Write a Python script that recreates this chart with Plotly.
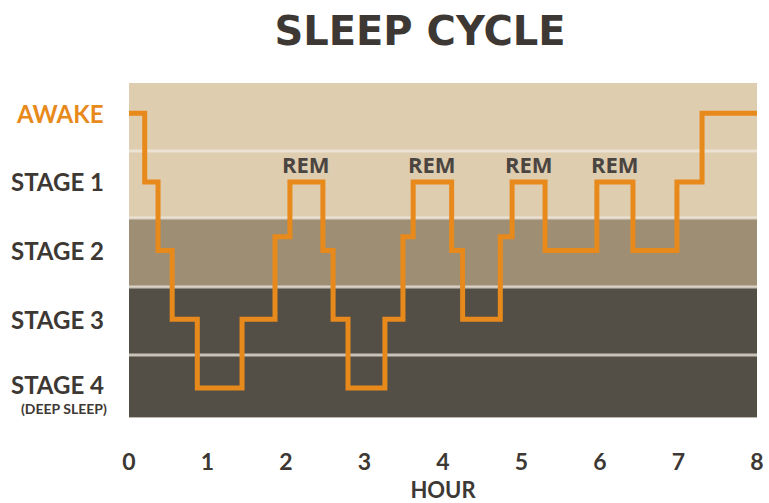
import plotly.graph_objects as go

# ---- data ----
stage_labels = ["AWAKE", "STAGE 1", "STAGE 2", "STAGE 3", "STAGE 4"]
stage_levels = [0, 1, 2, 3, 4]
hour_ticks = [0, 1, 2, 3, 4, 5, 6, 7, 8]
# step start times (hours) and sleep level for each step
step_hours = [0.00, 0.20, 0.37, 0.55, 0.87, 1.44, 1.86, 2.05, 2.47, 2.60, 2.79,
              3.26, 3.49, 3.62, 4.11, 4.25, 4.73, 4.88, 5.30, 5.96, 6.42, 6.98,
              7.30, 8.00]
step_levels = [0, 1, 2, 3, 4, 3, 1.8, 1, 2, 3, 4,
               3, 1.8, 1, 2, 3, 1.8, 1, 2, 1, 2, 1,
               0, 0]

ORANGE = "#e8891c"
DARK = "#3d3833"
LIGHT_BAND = "#dfcdb0"
MID_BAND = "#9e8f74"
DARK_BAND = "#544f46"

Y_TOP, Y_BOT = -0.44, 4.437
b_aw_s1, b_s1_s2, b_s2_s3, b_s3_s4 = 0.55, 1.525, 2.53, 3.52

fig = go.Figure()

fig.add_trace(go.Scatter(
    x=step_hours, y=step_levels, mode="lines",
    line=dict(color=ORANGE, width=5, shape="hv"),
    hoverinfo="skip", showlegend=False, cliponaxis=True,
))

shapes = []
for y0, y1, col in [(Y_TOP, b_s1_s2, LIGHT_BAND), (b_s1_s2, b_s2_s3, MID_BAND),
                    (b_s2_s3, Y_BOT, DARK_BAND)]:
    shapes.append(dict(type="rect", xref="x domain", yref="y", x0=0, x1=1,
                       y0=y0, y1=y1, fillcolor=col, line=dict(width=0),
                       layer="below"))
for yb in [b_aw_s1, b_s1_s2, b_s2_s3, b_s3_s4]:
    shapes.append(dict(type="line", xref="x domain", yref="y", x0=0, x1=1,
                       y0=yb, y1=yb, line=dict(color="rgba(240,234,224,0.75)", width=3),
                       layer="below"))
shapes.append(dict(type="line", xref="x domain", yref="y", x0=0, x1=1,
                   y0=Y_BOT, y1=Y_BOT, line=dict(color="rgba(200,196,188,0.9)", width=2),
                   layer="below"))

annotations = []
# stage labels
for lab, lev in zip(stage_labels, stage_levels):
    col = ORANGE if lab == "AWAKE" else DARK
    ysh = 3 if lev == 4 else 0
    annotations.append(dict(x=0, xref="paper", y=lev, yref="y", text=lab,
                            xanchor="right", yanchor="middle", xshift=-23, yshift=ysh,
                            showarrow=False,
                            font=dict(family="Lato", size=24, color=col, weight="bold")))
annotations.append(dict(x=0, xref="paper", y=stage_levels[-1], yref="y",
                        text="(DEEP SLEEP)", xanchor="right", yanchor="middle",
                        xshift=-20, yshift=-21, showarrow=False,
                        font=dict(family="Lato", size=14, color=DARK, weight="bold")))
# REM labels: stage-1 plateaus followed by stage 2 and not preceded by awake
for i in range(1, len(step_levels) - 1):
    if step_levels[i] == 1 and step_levels[i + 1] == 2 and step_levels[i - 1] != 0:
        xm = (step_hours[i] + step_hours[i + 1]) / 2
        annotations.append(dict(x=xm, y=1, xref="x", yref="y", text="REM",
                                showarrow=False, yanchor="middle", yshift=18,
                                font=dict(family="Open Sans", size=22, color="#4a4540",
                                          weight="bold")))

fig.update_layout(
    width=769, height=503,
    margin=dict(l=129, r=12, t=83, b=85),
    paper_bgcolor="white", plot_bgcolor="white",
    title=dict(text="SLEEP CYCLE", x=420 / 769, xanchor="center", xref="container",
               y=1 - 31 / 503, yanchor="middle", yref="container", automargin=False,
               font=dict(family="DejaVu Sans", size=40, color=DARK, weight="bold")),
    shapes=shapes, annotations=annotations,
    xaxis=dict(range=[0, 8], tickvals=hour_ticks, showgrid=False, zeroline=False,
               showline=False, ticks="", ticklabelstandoff=28, automargin=False,
               tickfont=dict(family="Lato", size=23, color=DARK, weight="bold"),
               title=dict(text="HOUR", standoff=13,
                          font=dict(family="Lato", size=22, color=DARK, weight="bold"))),
    yaxis=dict(range=[Y_BOT, Y_TOP], showticklabels=False, showgrid=False,
               zeroline=False, showline=False, ticks="", automargin=False),
)

fig.write_html("out.html", config={"displayModeBar": False},
               post_script="document.body.style.margin='0';document.body.style.padding='0';")
